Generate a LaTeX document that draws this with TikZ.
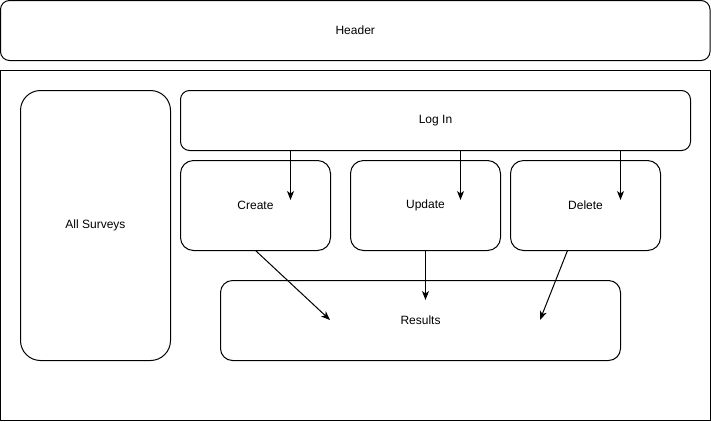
\documentclass[tikz,border=0pt]{standalone}
\usepackage{fontspec}
\setmainfont{Liberation Sans}
\usetikzlibrary{positioning}
\usetikzlibrary{arrows.meta}

\begin{document}
\begin{tikzpicture}[x=1pt,y=-1pt,line width=1pt,font=\fontsize{12}{14}\selectfont,
riquadro/.style={draw,anchor=north west,inner sep=0pt,outer sep=0pt,rounded corners=9pt},
pulsante/.style={riquadro,minimum width=150pt,minimum height=90pt,rounded corners=13pt},
freccia/.style={-{Stealth[length=9pt,width=7pt,inset=2.5pt]}}
]
\useasboundingbox (0,0) rectangle (711,421);
%--
\node[riquadro,minimum width=709.5pt,minimum height=60pt](header) at (0.5,0.5){Header};
\node[draw,anchor=north west,inner sep=0pt,outer sep=0pt,minimum width=709.5pt,minimum height=350pt](corpo) at (0.5,70.5){};
%--
\node[riquadro,minimum width=150pt,minimum height=270pt,rounded corners=20pt](surveys) at (20.5,90.5){All Surveys};
\node[riquadro,minimum width=510pt,minimum height=60pt](login) at (180.5,90.5){Log In};
%--
\node[pulsante](create) at (180.5,160.5){Create};
\node[pulsante,right = 20pt of create](update){Update};
\node[pulsante,right = 10pt of update](delete){Delete};
%--
\node[riquadro,minimum width=400pt,minimum height=80pt,rounded corners=12pt](results) at (220.5,280.5){Results};
%--
\coordinate (pc) at (290.5,200);
\coordinate (pu) at (460.5,200);
\coordinate (pd) at (620.5,200);
\draw[freccia] (login.south -| pc) -- (pc);
\draw[freccia] (login.south -| pu) -- (pu);
\draw[freccia] (login.south -| pd) -- (pd);
%--
\coordinate (rc) at (330,320);
\coordinate (ru) at (425.5,300);
\coordinate (rd) at (540,320);
\draw[freccia] (create.south) -- (rc);
\draw[freccia] (update.south -| ru) -- (ru);
\draw[freccia] (delete.south) ++(-18,0) -- (rd);
\end{tikzpicture}
\end{document}
